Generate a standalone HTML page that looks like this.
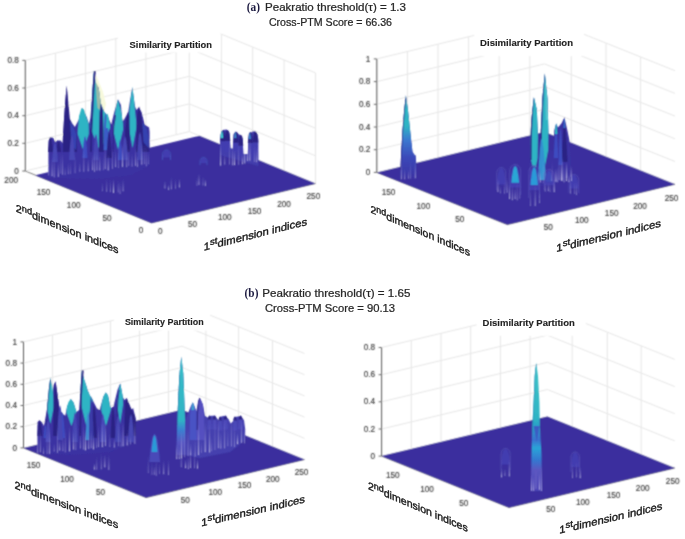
<!DOCTYPE html>
<html><head><meta charset="utf-8"><style>
html,body{margin:0;padding:0;background:#fff;}
svg{display:block;}
.tk{font-family:"Liberation Sans",sans-serif;font-size:9px;fill:#383838;stroke:#383838;stroke-width:0.15px;}
.st{font-family:"Liberation Sans",sans-serif;font-size:9px;font-weight:bold;fill:#222;stroke:#222;stroke-width:0.12px;}
.ttl{font-family:"Liberation Sans",sans-serif;font-size:10px;fill:#262626;stroke:#262626;stroke-width:0.22px;}
.ab{font-family:"Liberation Serif",serif;font-size:12.8px;font-weight:bold;fill:#1c1a40;}
.lbl{font-family:"Liberation Sans",sans-serif;font-size:10.6px;fill:#1a1a1a;stroke:#1a1a1a;stroke-width:0.38px;}
.sup{font-size:9px;}
</style></head><body>
<svg width="685" height="539" viewBox="0 0 685 539">
<defs><linearGradient id="g0" gradientUnits="userSpaceOnUse" x1="0" y1="95.3" x2="0" y2="179.0"><stop offset="0.000" stop-color="#2eb4c4"/><stop offset="0.367" stop-color="#2eb4c4"/><stop offset="0.534" stop-color="#3a78d0"/><stop offset="0.749" stop-color="#3a48b8"/><stop offset="1.000" stop-color="#3a31a2"/></linearGradient><linearGradient id="g1" gradientUnits="userSpaceOnUse" x1="0" y1="356.7" x2="0" y2="455.0"><stop offset="0.000" stop-color="#38bcc8"/><stop offset="0.644" stop-color="#2eb4c4"/><stop offset="0.746" stop-color="#3a80d0"/><stop offset="0.868" stop-color="#5656c2"/><stop offset="1.000" stop-color="#4a44b2"/></linearGradient><linearGradient id="g2" gradientUnits="userSpaceOnUse" x1="0" y1="362.5" x2="0" y2="491.0"><stop offset="0.000" stop-color="#40c4c8"/><stop offset="0.432" stop-color="#2eb4c4"/><stop offset="0.525" stop-color="#2a96c8"/><stop offset="0.603" stop-color="#3a72d0"/><stop offset="0.665" stop-color="#2aa4d8"/><stop offset="0.759" stop-color="#3478d0"/><stop offset="0.837" stop-color="#5a56c0"/><stop offset="1.000" stop-color="#4a42b4"/></linearGradient><filter id="glob" x="0" y="0" width="685" height="539" filterUnits="userSpaceOnUse"><feConvolveMatrix order="3" kernelMatrix="1 2 1 2 6 2 1 2 1" divisor="18" edgeMode="duplicate"/></filter><filter id="soft" x="-5%" y="-5%" width="110%" height="110%"><feGaussianBlur stdDeviation="0.45"/></filter><linearGradient id="sg" x1="0" y1="0" x2="0" y2="1"><stop offset="0" stop-color="#c8c4f0" stop-opacity="0"/><stop offset="1" stop-color="#dcd8fa" stop-opacity="1"/></linearGradient></defs>
<rect width="685" height="539" fill="#fff"/>
<g filter="url(#glob)">
<g id="TL"><path d="M25.3,171.0 L25.3,60.4 M55.5,163.8 L55.5,53.1 M85.6,156.5 L85.6,45.9 M115.8,149.3 L115.8,38.6 M145.9,142.0 L145.9,31.4 M176.1,134.8 L176.1,24.1 M189.3,131.6 L189.3,21.0 M221.4,144.8 L221.4,34.2 M252.7,157.7 L252.7,47.0 M284.1,170.6 L284.1,59.9 M315.5,183.5 L315.5,72.9 M25.3,171.0 L189.3,131.6 L315.5,183.5 M25.3,143.3 L189.3,103.9 L315.5,155.8 M25.3,115.7 L189.3,76.3 L315.5,128.2 M25.3,88.0 L189.3,48.6 L315.5,100.5 M25.3,60.4 L189.3,21.0 L315.5,72.9" stroke="#e6e6e6" stroke-width="1" fill="none"/>
<path d="M25.3,171.0 L151.5,222.9 L315.5,183.5" stroke="#5a5a5a" stroke-width="0.8" fill="none"/>
<polygon points="151.5,222.9 315.5,183.5 199.4,135.8 35.4,175.2" fill="#3a2f9e"/>
<g filter="url(#soft)">
<polygon points="95.5,74.0 99.0,82.0 103.0,92.0 106.0,104.0 104.0,112.0 99.0,104.0 96.0,90.0" fill="#f7f9dc"/>
<polygon points="48.3,177.0 48.5,141.0 50.0,137.5 53.0,137.5 55.3,142.0 57.0,140.5 60.5,140.5 62.5,143.0 64.5,112.0 66.7,85.8 68.9,120.0 71.9,123.0 74.9,127.0 78.6,120.0 82.3,108.0 86.7,117.0 89.0,124.0 90.4,118.0 92.5,90.0 93.9,71.0 96.4,87.3 98.6,87.3 100.8,103.6 104.6,112.5 107.5,115.5 111.2,124.4 114.2,112.5 117.9,99.2 120.9,105.0 122.4,121.4 125.0,118.0 128.3,111.8 129.8,102.0 132.3,87.3 135.0,106.6 136.5,110.0 138.7,107.3 141.7,112.5 144.7,124.4 149.1,127.4 149.6,132.0 149.5,165.5 131.0,175.0 97.0,179.0 70.0,178.5" fill="#3a31a2"/>
<polygon points="48.0,152.0 48.1,150.5 48.2,149.1 48.3,147.6 48.5,146.1 48.6,144.7 48.7,143.2 48.9,141.7 49.1,140.2 49.4,138.8 50.2,137.3 50.2,137.3 51.3,138.8 51.7,140.2 51.9,141.7 52.2,143.2 52.4,144.7 52.6,146.1 52.8,147.6 52.9,149.1 53.1,150.5 53.2,152.0" fill="#2c2484"/>
<polygon points="56.3,152.0 56.4,150.9 56.5,149.8 56.6,148.6 56.8,147.5 56.9,146.4 57.0,145.3 57.2,144.2 57.4,143.0 57.7,141.9 58.5,140.8 58.5,140.8 59.4,141.9 59.8,143.0 60.0,144.2 60.2,145.3 60.4,146.4 60.6,147.5 60.7,148.6 60.9,149.8 61.0,150.9 61.1,152.0" fill="#2c2484"/>
<polygon points="77.7,134.0 77.7,131.9 78.4,124.1 78.8,118.9 79.0,116.3 81.0,109.8 81.6,107.9 81.6,107.9 84.2,109.8 86.1,116.3 86.8,118.9 88.7,124.1 88.8,131.9 88.8,134.0 83.2,150.0" fill="#2eb4c4"/>
<polygon points="62.8,152.0 63.2,134.5 63.5,129.3 63.7,125.4 63.9,121.5 64.1,118.9 65.4,99.5 66.7,85.8 66.7,85.8 68.0,99.5 69.9,118.9 71.2,121.5 72.5,125.4 74.5,129.3 76.4,134.5 77.0,152.0" fill="#2c2484"/>
<polygon points="70.0,121.0 72.5,125.4 74.5,129.3 76.4,134.5 76.0,150.0 71.5,145.0" fill="#3442b0"/>
<polygon points="90.5,128.0 90.7,124.1 91.2,115.5 91.4,112.5 91.5,110.0 91.8,103.6 92.5,90.0 92.7,87.3 93.9,71.0 93.9,71.0 96.4,87.3 99.0,90.0 100.8,103.6 103.5,110.0 104.6,112.5 107.5,115.5 109.9,124.1 110.0,128.0 100.2,152.0" fill="#2eb4c4"/>
<polygon points="93.9,71.0 92.5,90.0 91.5,110.0 90.4,130.0 90.0,152.0 91.9,152.0 92.3,130.0 93.4,110.0 94.4,90.0 95.8,71.0" fill="#2c2484"/>
<polygon points="95.8,82.0 98.2,86.5 99.6,95.0 100.8,103.0 99.6,110.0 97.6,108.0 96.5,95.0" fill="#9cb9a8"/>
<polygon points="98.8,152.0 99.0,130.0 99.5,112.4 99.9,109.8 100.8,103.3 100.8,103.3 102.8,109.8 102.9,112.4 103.5,130.0 103.8,152.0" fill="#2c2484"/>
<polygon points="103.6,150.0 103.7,146.3 103.8,142.6 103.9,138.8 104.0,135.1 104.1,131.4 104.2,127.7 104.3,124.0 104.5,120.2 104.7,116.5 105.2,112.8 105.2,112.8 106.6,116.5 107.2,120.2 107.7,124.0 108.0,127.7 108.4,131.4 108.7,135.1 109.0,138.8 109.2,142.6 109.5,146.3 109.7,150.0" fill="#3a5cc6"/>
<polygon points="106.0,128.0 106.1,126.5 106.1,125.1 106.2,123.7 106.3,122.2 106.4,120.8 106.4,119.3 106.5,117.8 106.7,116.4 106.8,115.0 107.2,113.5 107.2,113.5 108.0,115.0 108.3,116.4 108.6,117.8 108.8,119.3 109.0,120.8 109.1,122.2 109.3,123.7 109.4,125.1 109.6,126.5 109.7,128.0" fill="#2eb4c4"/>
<polygon points="113.1,130.0 113.2,126.7 113.9,122.8 114.5,118.9 115.2,113.7 115.8,108.5 116.3,105.9 117.7,99.5 117.7,99.5 119.6,105.9 120.3,108.5 121.6,113.7 122.3,118.9 122.9,122.8 123.0,126.7 123.0,130.0 118.1,150.0" fill="#2eb4c4"/>
<polygon points="115.0,115.0 114.5,118.9 113.2,126.7 112.5,152.0 113.5,152.0 114.2,126.7 115.5,118.9 116.0,115.0" fill="#2c2484"/>
<polygon points="128.9,128.0 129.1,121.5 129.4,112.4 130.7,99.5 132.4,87.1 132.4,87.1 133.9,99.5 135.2,112.4 136.2,121.5 136.3,128.0 132.6,148.0" fill="#2eb4c4"/>
<polygon points="124.5,152.0 125.0,130.0 126.1,118.9 126.9,116.0 128.1,111.8 128.1,111.8 129.5,116.0 129.5,118.9 129.7,130.0 130.0,152.0" fill="#2c2484"/>
<polygon points="136.0,152.0 136.3,138.4 136.5,130.0 136.5,129.3 136.8,124.1 136.8,122.8 137.2,113.7 137.5,112.4 139.1,106.6 139.1,106.6 141.0,112.4 141.2,113.7 142.3,122.8 143.6,124.1 146.9,129.3 147.0,130.0 148.8,138.4 149.3,152.0" fill="#2c2484"/>
<polygon points="142.3,122.8 144.3,124.1 146.9,129.3 148.8,138.4 148.5,148.0 143.5,142.0" fill="#3442b0"/>
<polygon points="82.5,158.0 82.6,155.8 82.8,153.6 82.9,151.4 83.1,149.2 83.2,147.0 83.4,144.8 83.6,142.6 83.9,140.4 84.2,138.2 85.0,136.0 85.0,136.0 85.8,138.2 86.1,140.4 86.4,142.6 86.6,144.8 86.8,147.0 86.9,149.2 87.1,151.4 87.2,153.6 87.4,155.8 87.5,158.0" fill="#3d4cc0"/>
<polygon points="69.0,160.0 69.2,157.5 69.3,155.0 69.5,152.5 69.7,150.0 69.9,147.5 70.1,145.0 70.4,142.5 70.7,140.0 71.1,137.5 72.0,135.0 72.0,135.0 72.9,137.5 73.3,140.0 73.6,142.5 73.9,145.0 74.1,147.5 74.3,150.0 74.5,152.5 74.7,155.0 74.8,157.5 75.0,160.0" fill="#4646b4"/>
<polygon points="93.0,160.0 93.2,157.4 93.3,154.8 93.5,152.2 93.7,149.6 93.9,147.0 94.1,144.4 94.4,141.8 94.7,139.2 95.1,136.6 96.0,134.0 96.0,134.0 96.9,136.6 97.3,139.2 97.6,141.8 97.9,144.4 98.1,147.0 98.3,149.6 98.5,152.2 98.7,154.8 98.8,157.4 99.0,160.0" fill="#4444b2"/>
<polygon points="122.0,160.0 122.2,157.6 122.3,155.2 122.5,152.8 122.7,150.4 122.9,148.0 123.1,145.6 123.4,143.2 123.7,140.8 124.1,138.4 125.0,136.0 125.0,136.0 125.9,138.4 126.3,140.8 126.6,143.2 126.9,145.6 127.1,148.0 127.3,150.4 127.5,152.8 127.7,155.2 127.8,157.6 128.0,160.0" fill="#4646b4"/>
<polygon points="137.0,160.0 137.2,157.2 137.3,154.4 137.5,151.6 137.7,148.8 137.9,146.0 138.1,143.2 138.4,140.4 138.7,137.6 139.1,134.8 140.0,132.0 140.0,132.0 140.9,134.8 141.3,137.6 141.6,140.4 141.9,143.2 142.1,146.0 142.3,148.8 142.5,151.6 142.7,154.4 142.8,157.2 143.0,160.0" fill="#4444b2"/>
<polygon points="52.0,162.0 52.2,160.0 52.3,158.0 52.5,156.0 52.7,154.0 52.9,152.0 53.1,150.0 53.4,148.0 53.7,146.0 54.1,144.0 55.0,142.0 55.0,142.0 55.9,144.0 56.3,146.0 56.6,148.0 56.9,150.0 57.1,152.0 57.3,154.0 57.5,156.0 57.7,158.0 57.8,160.0 58.0,162.0" fill="#4646b4"/>
<polygon points="106.5,158.0 106.6,155.4 106.8,152.8 106.9,150.2 107.1,147.6 107.2,145.0 107.4,142.4 107.6,139.8 107.9,137.2 108.2,134.6 109.0,132.0 109.0,132.0 109.9,134.6 110.3,137.2 110.6,139.8 110.9,142.4 111.1,145.0 111.3,147.6 111.5,150.2 111.7,152.8 111.8,155.4 112.0,158.0" fill="#2c2484"/>
<polygon points="118.0,160.0 118.1,158.0 118.2,156.0 118.3,154.0 118.5,152.0 118.6,150.0 118.7,148.0 118.9,146.0 119.1,144.0 119.4,142.0 120.0,140.0 120.0,140.0 120.8,142.0 121.1,144.0 121.4,146.0 121.6,148.0 121.8,150.0 121.9,152.0 122.1,154.0 122.2,156.0 122.4,158.0 122.5,160.0" fill="#3d4cc0"/>
<rect x="48.3" y="155.2" width="0.9" height="20.2" fill="url(#sg)" opacity="0.43"/>
<rect x="51.6" y="157.8" width="0.9" height="18.4" fill="url(#sg)" opacity="0.69"/>
<rect x="53.7" y="155.9" width="0.9" height="21.4" fill="url(#sg)" opacity="0.52"/>
<rect x="57.8" y="161.7" width="0.9" height="15.1" fill="url(#sg)" opacity="0.66"/>
<rect x="60.3" y="151.3" width="0.9" height="22.4" fill="url(#sg)" opacity="0.32"/>
<rect x="62.2" y="151.7" width="0.9" height="23.0" fill="url(#sg)" opacity="0.49"/>
<rect x="64.6" y="166.3" width="0.9" height="8.5" fill="url(#sg)" opacity="0.41"/>
<rect x="67.8" y="162.4" width="0.9" height="11.7" fill="url(#sg)" opacity="0.42"/>
<rect x="70.2" y="161.3" width="0.9" height="12.6" fill="url(#sg)" opacity="0.31"/>
<rect x="74.6" y="154.9" width="0.9" height="18.3" fill="url(#sg)" opacity="0.39"/>
<rect x="79.4" y="161.8" width="0.9" height="9.9" fill="url(#sg)" opacity="0.47"/>
<rect x="83.4" y="148.7" width="0.9" height="23.0" fill="url(#sg)" opacity="0.51"/>
<rect x="87.7" y="158.4" width="0.9" height="12.9" fill="url(#sg)" opacity="0.59"/>
<rect x="92.2" y="154.1" width="0.9" height="16.1" fill="url(#sg)" opacity="0.59"/>
<rect x="94.1" y="151.0" width="0.9" height="20.8" fill="url(#sg)" opacity="0.51"/>
<rect x="96.5" y="151.3" width="0.9" height="19.2" fill="url(#sg)" opacity="0.64"/>
<rect x="99.4" y="154.4" width="0.9" height="16.1" fill="url(#sg)" opacity="0.69"/>
<rect x="102.8" y="154.5" width="0.9" height="15.8" fill="url(#sg)" opacity="0.31"/>
<rect x="104.7" y="145.4" width="0.9" height="23.7" fill="url(#sg)" opacity="0.60"/>
<rect x="107.7" y="154.4" width="0.9" height="16.0" fill="url(#sg)" opacity="0.79"/>
<rect x="111.9" y="147.0" width="0.9" height="21.8" fill="url(#sg)" opacity="0.42"/>
<rect x="115.2" y="149.9" width="0.9" height="17.2" fill="url(#sg)" opacity="0.53"/>
<rect x="117.9" y="144.7" width="0.9" height="23.3" fill="url(#sg)" opacity="0.30"/>
<rect x="122.0" y="144.6" width="0.9" height="22.2" fill="url(#sg)" opacity="0.67"/>
<rect x="126.3" y="150.2" width="0.9" height="17.0" fill="url(#sg)" opacity="0.51"/>
<rect x="128.3" y="148.7" width="0.9" height="17.1" fill="url(#sg)" opacity="0.40"/>
<rect x="131.6" y="152.9" width="0.9" height="13.7" fill="url(#sg)" opacity="0.47"/>
<rect x="135.1" y="148.0" width="0.9" height="17.8" fill="url(#sg)" opacity="0.53"/>
<rect x="136.9" y="155.9" width="0.9" height="10.8" fill="url(#sg)" opacity="0.59"/>
<rect x="141.4" y="143.8" width="0.9" height="20.8" fill="url(#sg)" opacity="0.71"/>
<rect x="144.0" y="145.3" width="0.9" height="18.8" fill="url(#sg)" opacity="0.34"/>
<rect x="145.8" y="146.2" width="0.9" height="20.1" fill="url(#sg)" opacity="0.42"/>
<rect x="147.9" y="150.7" width="0.9" height="13.5" fill="url(#sg)" opacity="0.33"/>
<rect x="101.9" y="182.7" width="0.9" height="8.5" fill="url(#sg)" opacity="0.34"/>
<rect x="106.3" y="178.4" width="0.9" height="13.4" fill="url(#sg)" opacity="0.45"/>
<rect x="109.9" y="179.5" width="0.9" height="12.6" fill="url(#sg)" opacity="0.38"/>
<rect x="113.0" y="179.0" width="0.9" height="13.8" fill="url(#sg)" opacity="0.80"/>
<rect x="117.7" y="180.8" width="0.9" height="11.6" fill="url(#sg)" opacity="0.43"/>
<rect x="119.6" y="182.2" width="0.9" height="11.7" fill="url(#sg)" opacity="0.46"/>
<rect x="122.6" y="179.1" width="0.9" height="12.2" fill="url(#sg)" opacity="0.58"/>
<polygon points="162.5,157.5 162.6,156.8 162.8,156.1 163.0,155.3 163.2,154.6 163.4,153.9 163.6,153.2 163.9,152.5 164.2,151.7 164.7,151.0 166.5,150.3 166.5,150.3 168.3,151.0 168.8,151.7 169.1,152.5 169.4,153.2 169.6,153.9 169.8,154.6 170.0,155.3 170.2,156.1 170.4,156.8 170.5,157.5" fill="#433db0"/>
<polyline points="162.5,160.0 162.5,154.8 162.6,153.6 163.0,152.4 163.7,151.4 164.5,150.6 165.5,150.2 166.5,150.0 167.5,150.2 168.5,150.6 169.3,151.4 170.0,152.4 170.4,153.6 170.5,154.8 170.5,160.0" stroke="#4a60c8" stroke-width="0.60" fill="none"/>
<polygon points="200.0,163.1 200.1,162.6 200.3,162.1 200.4,161.5 200.6,161.0 200.8,160.5 201.0,159.9 201.2,159.4 201.5,158.9 201.9,158.3 203.5,157.8 203.5,157.8 205.1,158.3 205.5,158.9 205.8,159.4 206.0,159.9 206.2,160.5 206.4,161.0 206.6,161.5 206.7,162.1 206.9,162.6 207.0,163.1" fill="#433db0"/>
<polyline points="200.0,165.0 200.0,161.7 200.1,160.6 200.5,159.6 201.0,158.7 201.8,158.1 202.6,157.6 203.5,157.5 204.4,157.6 205.2,158.1 206.0,158.7 206.5,159.6 206.9,160.6 207.0,161.7 207.0,165.0" stroke="#4a60c8" stroke-width="0.60" fill="none"/>
<rect x="164.5" y="180.8" width="0.9" height="7.6" fill="url(#sg)" opacity="0.60"/>
<rect x="168.2" y="184.7" width="0.9" height="5.1" fill="url(#sg)" opacity="0.72"/>
<rect x="170.8" y="177.3" width="0.9" height="12.0" fill="url(#sg)" opacity="0.54"/>
<rect x="175.1" y="179.1" width="0.9" height="9.5" fill="url(#sg)" opacity="0.38"/>
<rect x="178.9" y="178.7" width="0.9" height="8.7" fill="url(#sg)" opacity="0.67"/>
<rect x="196.5" y="177.9" width="0.9" height="7.8" fill="url(#sg)" opacity="0.38"/>
<rect x="198.5" y="173.4" width="0.9" height="11.4" fill="url(#sg)" opacity="0.70"/>
<rect x="202.6" y="176.6" width="0.9" height="8.8" fill="url(#sg)" opacity="0.44"/>
<rect x="204.9" y="179.2" width="0.9" height="6.5" fill="url(#sg)" opacity="0.76"/>
<polygon points="220.0,143.0 220.6,133.9 222.8,130.0 226.7,129.5 229.5,132.8 230.6,148.4 232.8,148.4 233.4,134.5 235.8,131.5 239.2,134.5 241.2,135.6 242.8,139.5 243.4,154.0 247.8,154.0 248.4,139.0 251.7,131.7 254.5,131.1 257.3,133.9 258.4,139.5 258.4,161.8 258.4,166.0 220.0,155.0" fill="#423cac"/>
<polygon points="220.2,150.0 220.3,148.0 220.4,146.0 220.5,144.1 220.6,142.1 220.7,140.1 220.8,138.1 221.0,136.1 221.2,134.2 221.5,132.2 222.8,130.2 222.8,130.2 224.1,132.2 224.4,134.2 224.6,136.1 224.8,138.1 224.9,140.1 225.0,142.1 225.1,144.1 225.2,146.0 225.3,148.0 225.4,150.0" fill="#423eb0"/>
<polygon points="220.3,141.2 220.4,140.1 220.4,139.0 220.5,137.9 220.6,136.8 220.8,135.7 220.9,134.6 221.0,133.5 221.2,132.4 221.5,131.3 222.8,130.2 222.8,130.2 224.1,131.3 224.4,132.4 224.6,133.5 224.7,134.6 224.8,135.7 225.0,136.8 225.1,137.9 225.2,139.0 225.2,140.1 225.3,141.2" fill="#2c2484"/>
<polygon points="224.6,152.0 224.7,149.8 224.8,147.6 224.9,145.4 225.0,143.2 225.1,141.0 225.2,138.8 225.4,136.6 225.6,134.4 225.9,132.2 227.2,130.0 227.2,130.0 228.8,132.2 229.2,134.4 229.4,136.6 229.6,138.8 229.8,141.0 229.9,143.2 230.1,145.4 230.2,147.6 230.3,149.8 230.4,152.0" fill="#423eb0"/>
<polygon points="224.7,141.0 224.8,139.9 224.8,138.8 224.9,137.7 225.0,136.6 225.2,135.5 225.3,134.4 225.4,133.3 225.6,132.2 225.9,131.1 227.2,130.0 227.2,130.0 228.8,131.1 229.1,132.2 229.4,133.3 229.6,134.4 229.7,135.5 229.9,136.6 230.0,137.7 230.1,138.8 230.2,139.9 230.3,141.0" fill="#2c2484"/>
<polygon points="233.2,152.0 233.3,150.0 233.4,147.9 233.5,145.9 233.6,143.9 233.7,141.8 233.9,139.8 234.0,137.8 234.3,135.8 234.6,133.7 236.0,131.7 236.0,131.7 237.5,133.7 237.9,135.8 238.1,137.8 238.3,139.8 238.4,141.8 238.6,143.9 238.7,145.9 238.8,147.9 238.9,150.0 239.0,152.0" fill="#423eb0"/>
<polygon points="233.3,142.7 233.4,141.6 233.5,140.5 233.6,139.4 233.7,138.3 233.8,137.2 233.9,136.1 234.1,135.0 234.3,133.9 234.6,132.8 236.0,131.7 236.0,131.7 237.5,132.8 237.8,133.9 238.0,135.0 238.2,136.1 238.4,137.2 238.5,138.3 238.6,139.4 238.7,140.5 238.8,141.6 238.9,142.7" fill="#2c2484"/>
<polygon points="238.2,156.0 238.3,153.9 238.4,151.8 238.4,149.6 238.5,147.5 238.7,145.4 238.8,143.3 238.9,141.2 239.1,139.0 239.4,136.9 240.6,134.8 240.6,134.8 242.0,136.9 242.3,139.0 242.6,141.2 242.7,143.3 242.9,145.4 243.0,147.5 243.1,149.6 243.2,151.8 243.3,153.9 243.4,156.0" fill="#423eb0"/>
<polygon points="238.3,145.8 238.3,144.7 238.4,143.6 238.5,142.5 238.6,141.4 238.7,140.3 238.8,139.2 239.0,138.1 239.2,137.0 239.4,135.9 240.6,134.8 240.6,134.8 242.0,135.9 242.3,137.0 242.5,138.1 242.7,139.2 242.8,140.3 242.9,141.4 243.0,142.5 243.1,143.6 243.2,144.7 243.3,145.8" fill="#2c2484"/>
<polygon points="247.7,158.0 247.8,155.4 247.9,152.8 248.0,150.2 248.1,147.6 248.2,145.0 248.4,142.4 248.5,139.8 248.8,137.2 249.1,134.6 250.5,132.0 250.5,132.0 251.8,134.6 252.0,137.2 252.2,139.8 252.4,142.4 252.5,145.0 252.6,147.6 252.7,150.2 252.8,152.8 252.9,155.4 253.0,158.0" fill="#423eb0"/>
<polygon points="247.8,143.0 247.9,141.9 248.0,140.8 248.1,139.7 248.2,138.6 248.3,137.5 248.4,136.4 248.6,135.3 248.8,134.2 249.1,133.1 250.5,132.0 250.5,132.0 251.7,133.1 252.0,134.2 252.2,135.3 252.3,136.4 252.5,137.5 252.6,138.6 252.7,139.7 252.8,140.8 252.8,141.9 252.9,143.0" fill="#2c2484"/>
<polygon points="252.8,160.0 252.9,157.1 253.0,154.3 253.0,151.4 253.1,148.6 253.3,145.7 253.4,142.8 253.5,140.0 253.7,137.1 254.0,134.3 255.2,131.4 255.2,131.4 256.8,134.3 257.2,137.1 257.4,140.0 257.6,142.8 257.8,145.7 257.9,148.6 258.1,151.4 258.2,154.3 258.3,157.1 258.4,160.0" fill="#423eb0"/>
<polygon points="252.9,142.4 252.9,141.3 253.0,140.2 253.1,139.1 253.2,138.0 253.3,136.9 253.4,135.8 253.6,134.7 253.8,133.6 254.0,132.5 255.2,131.4 255.2,131.4 256.8,132.5 257.1,133.6 257.4,134.7 257.6,135.8 257.7,136.9 257.9,138.0 258.0,139.1 258.1,140.2 258.2,141.3 258.3,142.4" fill="#2c2484"/>
<polygon points="220.6,138.0 220.7,137.3 220.7,136.5 220.8,135.8 220.9,135.0 221.0,134.3 221.1,133.6 221.2,132.8 221.4,132.1 221.6,131.3 222.0,130.6 222.0,130.6 222.4,131.3 222.5,132.1 222.7,132.8 222.8,133.6 222.8,134.3 222.9,135.0 223.0,135.8 223.1,136.5 223.1,137.3 223.2,138.0" fill="#3cc4d0"/>
<polygon points="234.2,138.0 234.3,137.4 234.3,136.8 234.4,136.3 234.5,135.7 234.6,135.1 234.6,134.5 234.7,133.9 234.9,133.4 235.0,132.8 235.4,132.2 235.4,132.2 235.7,132.8 235.8,133.4 235.9,133.9 236.0,134.5 236.1,135.1 236.2,135.7 236.2,136.3 236.3,136.8 236.3,137.4 236.4,138.0" fill="#3a8ad0"/>
<polygon points="248.7,139.0 248.8,138.3 248.8,137.7 248.9,137.1 249.0,136.4 249.1,135.8 249.2,135.1 249.3,134.4 249.4,133.8 249.6,133.2 250.0,132.5 250.0,132.5 250.3,133.2 250.4,133.8 250.5,134.4 250.6,135.1 250.7,135.8 250.8,136.4 250.8,137.1 250.9,137.7 250.9,138.3 251.0,139.0" fill="#3a80d0"/>
<rect x="220.2" y="142.9" width="0.9" height="22.7" fill="url(#sg)" opacity="0.77"/>
<rect x="224.3" y="154.0" width="0.9" height="10.5" fill="url(#sg)" opacity="0.53"/>
<rect x="229.0" y="140.1" width="0.9" height="24.4" fill="url(#sg)" opacity="0.36"/>
<rect x="232.2" y="146.6" width="0.9" height="18.7" fill="url(#sg)" opacity="0.59"/>
<rect x="234.0" y="150.6" width="0.9" height="14.5" fill="url(#sg)" opacity="0.76"/>
<rect x="238.2" y="141.9" width="0.9" height="22.8" fill="url(#sg)" opacity="0.37"/>
<rect x="241.9" y="154.2" width="0.9" height="10.0" fill="url(#sg)" opacity="0.74"/>
<rect x="244.3" y="137.8" width="0.9" height="25.7" fill="url(#sg)" opacity="0.74"/>
<rect x="247.0" y="142.3" width="0.9" height="18.6" fill="url(#sg)" opacity="0.64"/>
<rect x="249.4" y="139.6" width="0.9" height="21.1" fill="url(#sg)" opacity="0.78"/>
<rect x="253.9" y="146.1" width="0.9" height="15.8" fill="url(#sg)" opacity="0.38"/>
<rect x="256.2" y="147.4" width="0.9" height="14.8" fill="url(#sg)" opacity="0.60"/>
<rect x="258.0" y="144.7" width="0.9" height="15.4" fill="url(#sg)" opacity="0.45"/>
</g>
<path d="M25.3,171.0 L25.3,60.4" stroke="#5a5a5a" stroke-width="1" fill="none"/>
<path d="M25.3,171.0 h-3" stroke="#5a5a5a" stroke-width="0.9"/>
<text x="18.8" y="173.6" class="tk" text-anchor="end" textLength="4.56" lengthAdjust="spacingAndGlyphs">0</text>
<path d="M25.3,143.3 h-3" stroke="#5a5a5a" stroke-width="0.9"/>
<text x="18.8" y="145.9" class="tk" text-anchor="end" textLength="11.40" lengthAdjust="spacingAndGlyphs">0.2</text>
<path d="M25.3,115.7 h-3" stroke="#5a5a5a" stroke-width="0.9"/>
<text x="18.8" y="118.3" class="tk" text-anchor="end" textLength="11.40" lengthAdjust="spacingAndGlyphs">0.4</text>
<path d="M25.3,88.0 h-3" stroke="#5a5a5a" stroke-width="0.9"/>
<text x="18.8" y="90.6" class="tk" text-anchor="end" textLength="11.40" lengthAdjust="spacingAndGlyphs">0.6</text>
<path d="M25.3,60.4 h-3" stroke="#5a5a5a" stroke-width="0.9"/>
<text x="18.8" y="63.0" class="tk" text-anchor="end" textLength="11.40" lengthAdjust="spacingAndGlyphs">0.8</text>
<text x="11.2" y="182.8" class="tk" text-anchor="middle" textLength="13.68" lengthAdjust="spacingAndGlyphs">200</text>
<text x="43.5" y="195.3" class="tk" text-anchor="middle" textLength="13.68" lengthAdjust="spacingAndGlyphs">150</text>
<text x="73.7" y="208.2" class="tk" text-anchor="middle" textLength="13.68" lengthAdjust="spacingAndGlyphs">100</text>
<text x="107.0" y="220.7" class="tk" text-anchor="middle" textLength="9.12" lengthAdjust="spacingAndGlyphs">50</text>
<text x="141.0" y="233.2" class="tk" text-anchor="middle" textLength="4.56" lengthAdjust="spacingAndGlyphs">0</text>
<text x="160.4" y="234.2" class="tk" text-anchor="middle" textLength="4.56" lengthAdjust="spacingAndGlyphs">0</text>
<text x="192.6" y="226.8" class="tk" text-anchor="middle" textLength="9.12" lengthAdjust="spacingAndGlyphs">50</text>
<text x="224.8" y="220.2" class="tk" text-anchor="middle" textLength="13.68" lengthAdjust="spacingAndGlyphs">100</text>
<text x="254.6" y="213.7" class="tk" text-anchor="middle" textLength="13.68" lengthAdjust="spacingAndGlyphs">150</text>
<text x="284.0" y="206.5" class="tk" text-anchor="middle" textLength="13.68" lengthAdjust="spacingAndGlyphs">200</text>
<text x="313.4" y="199.2" class="tk" text-anchor="middle" textLength="13.68" lengthAdjust="spacingAndGlyphs">250</text>
<rect x="118.0" y="16.0" width="102.5" height="36.5" fill="#fff"/></g>
<g id="TR"><path d="M376.8,172.4 L376.8,58.9 M407.4,165.0 L407.4,51.5 M438.0,157.7 L438.0,44.2 M468.6,150.3 L468.6,36.8 M499.2,142.9 L499.2,29.4 M529.8,135.5 L529.8,22.0 M571.3,142.7 L571.3,29.2 M606.0,156.6 L606.0,43.1 M640.6,170.4 L640.6,56.9 M376.8,172.4 L544.5,132.0 L675.0,184.2 M376.8,149.7 L544.5,109.3 L675.0,161.5 M376.8,127.0 L544.5,86.6 L675.0,138.8 M376.8,104.3 L544.5,63.9 L675.0,116.1 M376.8,81.6 L544.5,41.2 L675.0,93.4 M376.8,58.9 L544.5,18.5 L675.0,70.7" stroke="#e6e6e6" stroke-width="1" fill="none"/>
<path d="M376.8,172.4 L507.3,224.6 L675.0,184.2" stroke="#5a5a5a" stroke-width="0.8" fill="none"/>
<polygon points="507.3,224.6 675.0,184.2 544.5,132.0 376.8,172.4" fill="#3a2f9e"/>
<g filter="url(#soft)">
<polygon points="400.0,179.0 401.0,157.6 402.5,131.0 404.2,110.6 405.9,95.3 408.0,110.6 410.4,133.0 412.4,151.4 414.1,154.5 415.5,155.5 416.1,161.6 416.7,179.0" fill="#3a31a2"/>
<polygon points="400.2,179.0 400.9,161.6 401.0,157.6 401.1,155.5 401.2,154.5 401.3,151.4 402.4,133.0 402.5,131.0 404.2,110.6 405.9,95.3 405.9,95.3 408.0,110.6 410.2,131.0 410.4,133.0 412.4,151.4 414.1,154.5 415.5,155.5 415.7,157.6 416.1,161.6 416.7,179.0" fill="url(#g0)"/>
<polygon points="405.6,98.0 404.2,110.6 402.5,131.0 401.0,157.6 400.5,170.0 401.2,170.0 401.7,157.6 403.2,131.0 404.9,110.6 406.3,98.0" fill="#2c2484"/>
<rect x="400.9" y="158.4" width="0.9" height="20.9" fill="url(#sg)" opacity="0.53"/>
<rect x="404.3" y="168.7" width="0.9" height="10.6" fill="url(#sg)" opacity="0.56"/>
<rect x="408.0" y="169.3" width="0.9" height="9.3" fill="url(#sg)" opacity="0.45"/>
<rect x="410.0" y="160.9" width="0.9" height="17.7" fill="url(#sg)" opacity="0.32"/>
<rect x="414.8" y="161.0" width="0.9" height="17.2" fill="url(#sg)" opacity="0.61"/>
<polygon points="529.5,186.0 530.1,154.1 531.2,120.7 533.9,97.3 536.8,109.6 537.9,135.0 540.1,154.1 540.8,131.8 542.4,98.4 544.8,73.5 547.5,98.4 548.4,131.8 549.0,149.7 553.2,151.0 554.2,130.6 556.2,123.5 558.0,127.4 561.7,122.9 564.4,117.3 567.4,130.6 569.5,140.8 570.5,157.1 570.5,176.0 550.0,186.0" fill="#3a31a2"/>
<polygon points="553.7,158.0 553.9,154.6 554.1,151.1 554.3,147.7 554.5,144.2 554.7,140.8 554.9,137.3 555.1,133.8 555.4,130.4 555.7,127.0 556.2,123.5 556.2,123.5 556.6,127.0 556.8,130.4 557.1,133.8 557.3,137.3 557.4,140.8 557.6,144.2 557.8,147.7 557.9,151.1 558.1,154.6 558.2,158.0" fill="#3d4cc0"/>
<polygon points="554.9,134.0 555.0,132.9 555.1,131.9 555.2,130.8 555.2,129.8 555.3,128.8 555.4,127.7 555.6,126.7 555.7,125.6 555.9,124.5 556.2,123.5 556.2,123.5 556.5,124.5 556.7,125.6 556.8,126.7 557.0,127.7 557.1,128.8 557.2,129.8 557.2,130.8 557.3,131.9 557.4,132.9 557.5,134.0" fill="#2eb4c4"/>
<polygon points="561.6,162.0 561.8,157.5 562.0,153.1 562.2,148.6 562.4,144.1 562.7,139.7 562.9,135.2 563.2,130.7 563.5,126.2 563.8,121.8 564.4,117.3 564.4,117.3 565.0,121.8 565.4,126.2 565.8,130.7 566.1,135.2 566.4,139.7 566.6,144.1 566.9,148.6 567.1,153.1 567.4,157.5 567.6,162.0" fill="#2c2484"/>
<polygon points="563.4,128.0 563.5,127.0 563.5,126.0 563.6,124.9 563.7,123.9 563.7,122.9 563.8,121.9 563.9,120.9 564.0,119.8 564.1,118.8 564.4,117.8 564.4,117.8 564.6,118.8 564.7,119.8 564.8,120.9 564.9,121.9 564.9,122.9 565.0,123.9 565.0,124.9 565.1,126.0 565.2,127.0 565.2,128.0" fill="#3470d0"/>
<polygon points="558.5,165.0 558.6,161.3 558.8,157.6 558.9,153.9 559.0,150.2 559.2,146.5 559.3,142.8 559.5,139.1 559.7,135.4 560.0,131.7 560.5,128.0 560.5,128.0 561.0,131.7 561.3,135.4 561.5,139.1 561.7,142.8 561.8,146.5 562.0,150.2 562.1,153.9 562.2,157.6 562.4,161.3 562.5,165.0" fill="#3d4cc0"/>
<polygon points="531.2,120.7 533.9,97.3 536.8,109.6 537.9,135.0 537.6,158.0 534.5,174.0 530.6,158.0 530.4,140.0" fill="#2eb4c4"/>
<polygon points="533.9,97.3 531.2,120.7 530.4,140.0 530.3,160.0 531.6,160.0 531.8,140.0 532.4,120.7 533.9,100.0" fill="#2c2484"/>
<polygon points="542.4,98.4 544.8,73.5 547.5,98.4 548.4,131.8 548.2,150.0 545.0,166.0 541.0,150.0 540.8,131.8" fill="#2eb4c4"/>
<polygon points="544.8,73.5 542.4,98.4 540.8,131.8 540.6,150.0 541.8,150.0 542.0,131.8 543.4,98.4 544.8,77.0" fill="#2c2484"/>
<polygon points="545.3,78.0 546.6,98.4 547.3,120.0 546.2,120.0 545.6,98.4" fill="#62cfd2"/>
<polygon points="538.0,180.0 538.2,175.8 538.4,171.6 538.7,167.4 538.9,163.2 539.2,159.0 539.5,154.8 539.8,150.6 540.2,146.4 540.6,142.2 541.5,138.0 541.5,138.0 542.6,142.2 543.2,146.4 543.7,150.6 544.1,154.8 544.5,159.0 544.8,163.2 545.1,167.4 545.4,171.6 545.7,175.8 546.0,180.0" fill="#3190d0"/>
<rect x="529.9" y="162.9" width="0.9" height="22.0" fill="url(#sg)" opacity="0.37"/>
<rect x="531.8" y="170.4" width="0.9" height="14.9" fill="url(#sg)" opacity="0.71"/>
<rect x="535.7" y="163.9" width="0.9" height="20.0" fill="url(#sg)" opacity="0.63"/>
<rect x="537.9" y="171.1" width="0.9" height="12.9" fill="url(#sg)" opacity="0.75"/>
<rect x="539.9" y="171.1" width="0.9" height="11.3" fill="url(#sg)" opacity="0.64"/>
<rect x="542.7" y="158.0" width="0.9" height="25.2" fill="url(#sg)" opacity="0.31"/>
<rect x="544.7" y="162.1" width="0.9" height="19.2" fill="url(#sg)" opacity="0.35"/>
<rect x="549.5" y="168.2" width="0.9" height="12.0" fill="url(#sg)" opacity="0.51"/>
<rect x="551.7" y="160.5" width="0.9" height="21.2" fill="url(#sg)" opacity="0.38"/>
<rect x="555.7" y="168.7" width="0.9" height="13.1" fill="url(#sg)" opacity="0.71"/>
<rect x="558.7" y="159.4" width="0.9" height="20.7" fill="url(#sg)" opacity="0.54"/>
<rect x="561.7" y="157.6" width="0.9" height="23.1" fill="url(#sg)" opacity="0.78"/>
<rect x="566.4" y="161.5" width="0.9" height="16.4" fill="url(#sg)" opacity="0.48"/>
<rect x="570.3" y="165.1" width="0.9" height="12.0" fill="url(#sg)" opacity="0.42"/>
<polygon points="496.8,184.4 497.0,182.7 497.1,181.1 497.3,179.4 497.5,177.7 497.8,176.1 498.0,174.4 498.3,172.8 498.7,171.1 499.3,169.5 501.3,167.8 501.3,167.8 503.3,169.5 503.9,171.1 504.3,172.8 504.6,174.4 504.8,176.1 505.1,177.7 505.3,179.4 505.5,181.1 505.6,182.7 505.8,184.4" fill="#433db0"/>
<polyline points="496.8,190.0 496.8,172.9 497.0,171.5 497.4,170.2 498.1,169.1 499.1,168.2 500.1,167.7 501.3,167.5 502.5,167.7 503.6,168.2 504.5,169.1 505.2,170.2 505.6,171.5 505.8,172.9 505.8,190.0" stroke="#5e58bc" stroke-width="0.60" fill="none"/>
<polygon points="509.7,187.4 509.9,185.1 510.1,182.9 510.3,180.6 510.6,178.3 510.9,176.1 511.2,173.8 511.6,171.6 512.1,169.3 512.7,167.1 515.2,164.8 515.2,164.8 517.7,167.1 518.3,169.3 518.8,171.6 519.2,173.8 519.5,176.1 519.8,178.3 520.1,180.6 520.3,182.9 520.5,185.1 520.7,187.4" fill="#433db0"/>
<polygon points="511.4,182.8 511.5,181.1 511.7,179.4 511.9,177.8 512.1,176.1 512.4,174.4 512.7,172.7 513.0,171.0 513.3,169.4 513.8,167.7 515.2,166.0 515.2,166.0 516.6,167.7 517.1,169.4 517.4,171.0 517.7,172.7 518.0,174.4 518.3,176.1 518.5,177.8 518.7,179.4 518.9,181.1 519.1,182.8" fill="#2aa6d6"/>
<polyline points="509.7,195.0 509.7,171.1 509.9,169.4 510.4,167.8 511.3,166.4 512.5,165.4 513.8,164.7 515.2,164.5 516.6,164.7 518.0,165.4 519.1,166.4 520.0,167.8 520.5,169.4 520.7,171.1 520.7,195.0" stroke="#5e58bc" stroke-width="0.60" fill="none"/>
<polygon points="528.9,189.9 529.1,187.5 529.3,185.1 529.5,182.7 529.8,180.2 530.0,177.8 530.4,175.4 530.7,173.0 531.2,170.6 531.8,168.2 534.2,165.8 534.2,165.8 536.6,168.2 537.2,170.6 537.7,173.0 538.0,175.4 538.4,177.8 538.6,180.2 538.9,182.7 539.1,185.1 539.3,187.5 539.5,189.9" fill="#433db0"/>
<polygon points="530.5,185.0 530.7,183.2 530.8,181.4 531.0,179.6 531.3,177.8 531.5,176.0 531.7,174.2 532.0,172.4 532.4,170.6 532.9,168.8 534.2,167.0 534.2,167.0 535.5,168.8 536.0,170.6 536.4,172.4 536.7,174.2 536.9,176.0 537.1,177.8 537.4,179.6 537.6,181.4 537.7,183.2 537.9,185.0" fill="#2c9ad8"/>
<polyline points="528.9,198.0 528.9,171.9 529.1,170.2 529.6,168.7 530.5,167.4 531.6,166.4 532.8,165.7 534.2,165.5 535.6,165.7 536.9,166.4 537.9,167.4 538.8,168.7 539.3,170.2 539.5,171.9 539.5,198.0" stroke="#5e58bc" stroke-width="0.60" fill="none"/>
<polygon points="544.3,184.9 544.5,183.4 544.7,181.9 544.9,180.4 545.1,178.8 545.3,177.3 545.6,175.8 546.0,174.3 546.4,172.8 547.0,171.3 549.1,169.8 549.1,169.8 551.2,171.3 551.8,172.8 552.2,174.3 552.6,175.8 552.9,177.3 553.1,178.8 553.3,180.4 553.5,181.9 553.7,183.4 553.9,184.9" fill="#433db0"/>
<polygon points="545.7,181.8 545.9,180.7 546.1,179.6 546.2,178.6 546.4,177.5 546.6,176.4 546.9,175.3 547.1,174.2 547.5,173.2 547.9,172.1 549.1,171.0 549.1,171.0 550.3,172.1 550.7,173.2 551.1,174.2 551.3,175.3 551.6,176.4 551.8,177.5 552.0,178.6 552.1,179.6 552.3,180.7 552.5,181.8" fill="#4048b8"/>
<polyline points="544.3,190.0 544.3,175.3 544.5,173.8 544.9,172.4 545.7,171.2 546.7,170.3 547.9,169.7 549.1,169.5 550.3,169.7 551.5,170.3 552.5,171.2 553.3,172.4 553.7,173.8 553.9,175.3 553.9,190.0" stroke="#5e58bc" stroke-width="0.60" fill="none"/>
<polygon points="569.1,188.4 569.3,187.0 569.5,185.7 569.7,184.3 569.9,182.9 570.1,181.6 570.4,180.2 570.8,178.9 571.2,177.5 571.8,176.2 573.9,174.8 573.9,174.8 576.0,176.2 576.6,177.5 577.0,178.9 577.4,180.2 577.7,181.6 577.9,182.9 578.1,184.3 578.3,185.7 578.5,187.0 578.7,188.4" fill="#433db0"/>
<polyline points="569.1,193.0 569.1,180.3 569.3,178.8 569.7,177.4 570.5,176.2 571.5,175.3 572.7,174.7 573.9,174.5 575.1,174.7 576.3,175.3 577.3,176.2 578.1,177.4 578.5,178.8 578.7,180.3 578.7,193.0" stroke="#5e58bc" stroke-width="0.60" fill="none"/>
<rect x="497.5" y="179.1" width="0.9" height="12.8" fill="url(#sg)" opacity="0.72"/>
<rect x="499.9" y="185.8" width="0.9" height="7.5" fill="url(#sg)" opacity="0.41"/>
<rect x="503.9" y="182.3" width="0.9" height="11.3" fill="url(#sg)" opacity="0.41"/>
<rect x="506.6" y="178.3" width="0.9" height="14.4" fill="url(#sg)" opacity="0.60"/>
<rect x="509.2" y="185.1" width="0.9" height="13.8" fill="url(#sg)" opacity="0.77"/>
<rect x="511.8" y="185.4" width="0.9" height="14.8" fill="url(#sg)" opacity="0.63"/>
<rect x="514.6" y="188.2" width="0.9" height="10.8" fill="url(#sg)" opacity="0.69"/>
<rect x="516.7" y="183.5" width="0.9" height="16.8" fill="url(#sg)" opacity="0.48"/>
<rect x="519.3" y="185.0" width="0.9" height="13.6" fill="url(#sg)" opacity="0.37"/>
<rect x="529.9" y="187.7" width="0.9" height="18.3" fill="url(#sg)" opacity="0.38"/>
<rect x="534.7" y="185.6" width="0.9" height="20.3" fill="url(#sg)" opacity="0.64"/>
<rect x="539.2" y="191.6" width="0.9" height="11.4" fill="url(#sg)" opacity="0.47"/>
<rect x="544.7" y="182.2" width="0.9" height="9.3" fill="url(#sg)" opacity="0.52"/>
<rect x="547.8" y="183.0" width="0.9" height="8.1" fill="url(#sg)" opacity="0.62"/>
<rect x="549.6" y="183.4" width="0.9" height="8.7" fill="url(#sg)" opacity="0.37"/>
<rect x="553.7" y="179.8" width="0.9" height="12.3" fill="url(#sg)" opacity="0.78"/>
<rect x="570.0" y="179.9" width="0.9" height="13.7" fill="url(#sg)" opacity="0.44"/>
<rect x="574.2" y="182.6" width="0.9" height="11.3" fill="url(#sg)" opacity="0.36"/>
<rect x="576.1" y="182.9" width="0.9" height="12.0" fill="url(#sg)" opacity="0.43"/>
<rect x="551.4" y="169.0" width="0.9" height="12.0" fill="url(#sg)" opacity="0.40"/>
<rect x="554.7" y="167.8" width="0.9" height="13.8" fill="url(#sg)" opacity="0.53"/>
<rect x="557.3" y="165.9" width="0.9" height="16.3" fill="url(#sg)" opacity="0.46"/>
<rect x="561.1" y="162.2" width="0.9" height="18.4" fill="url(#sg)" opacity="0.77"/>
<rect x="563.6" y="165.5" width="0.9" height="16.8" fill="url(#sg)" opacity="0.59"/>
<rect x="566.0" y="162.5" width="0.9" height="18.5" fill="url(#sg)" opacity="0.72"/>
<rect x="568.5" y="174.0" width="0.9" height="8.1" fill="url(#sg)" opacity="0.79"/>
<rect x="571.0" y="166.4" width="0.9" height="14.5" fill="url(#sg)" opacity="0.60"/>
</g>
<path d="M376.8,172.4 L376.8,58.9" stroke="#5a5a5a" stroke-width="1" fill="none"/>
<path d="M376.8,172.4 h-3" stroke="#5a5a5a" stroke-width="0.9"/>
<text x="370.3" y="175.0" class="tk" text-anchor="end" textLength="4.56" lengthAdjust="spacingAndGlyphs">0</text>
<path d="M376.8,149.7 h-3" stroke="#5a5a5a" stroke-width="0.9"/>
<text x="370.3" y="152.3" class="tk" text-anchor="end" textLength="11.40" lengthAdjust="spacingAndGlyphs">0.2</text>
<path d="M376.8,127.0 h-3" stroke="#5a5a5a" stroke-width="0.9"/>
<text x="370.3" y="129.6" class="tk" text-anchor="end" textLength="11.40" lengthAdjust="spacingAndGlyphs">0.4</text>
<path d="M376.8,104.3 h-3" stroke="#5a5a5a" stroke-width="0.9"/>
<text x="370.3" y="106.9" class="tk" text-anchor="end" textLength="11.40" lengthAdjust="spacingAndGlyphs">0.6</text>
<path d="M376.8,81.6 h-3" stroke="#5a5a5a" stroke-width="0.9"/>
<text x="370.3" y="84.2" class="tk" text-anchor="end" textLength="11.40" lengthAdjust="spacingAndGlyphs">0.8</text>
<path d="M376.8,58.9 h-3" stroke="#5a5a5a" stroke-width="0.9"/>
<text x="370.3" y="61.5" class="tk" text-anchor="end" textLength="4.56" lengthAdjust="spacingAndGlyphs">1</text>
<text x="388.6" y="194.7" class="tk" text-anchor="middle" textLength="13.68" lengthAdjust="spacingAndGlyphs">150</text>
<text x="423.4" y="208.5" class="tk" text-anchor="middle" textLength="13.68" lengthAdjust="spacingAndGlyphs">100</text>
<text x="459.7" y="222.2" class="tk" text-anchor="middle" textLength="9.12" lengthAdjust="spacingAndGlyphs">50</text>
<text x="548.2" y="229.6" class="tk" text-anchor="middle" textLength="9.12" lengthAdjust="spacingAndGlyphs">50</text>
<text x="581.8" y="222.5" class="tk" text-anchor="middle" textLength="13.68" lengthAdjust="spacingAndGlyphs">100</text>
<text x="611.7" y="215.6" class="tk" text-anchor="middle" textLength="13.68" lengthAdjust="spacingAndGlyphs">150</text>
<text x="640.1" y="208.7" class="tk" text-anchor="middle" textLength="13.68" lengthAdjust="spacingAndGlyphs">200</text>
<text x="671.6" y="201.2" class="tk" text-anchor="middle" textLength="13.68" lengthAdjust="spacingAndGlyphs">250</text>
<rect x="474.1" y="14.1" width="109.9" height="42.0" fill="#fff"/></g>
<g id="BL"><path d="M23.5,447.9 L23.5,341.9 M52.5,440.9 L52.5,334.9 M81.5,434.0 L81.5,328.0 M110.5,427.0 L110.5,321.0 M139.5,420.0 L139.5,314.0 M168.5,413.0 L168.5,307.0 M205.9,419.5 L205.9,313.5 M238.6,432.8 L238.6,326.8 M272.5,446.5 L272.5,340.5 M23.5,447.9 L182.0,409.8 L304.5,459.5 M23.5,426.7 L182.0,388.6 L304.5,438.3 M23.5,405.5 L182.0,367.4 L304.5,417.1 M23.5,384.3 L182.0,346.2 L304.5,395.9 M23.5,363.1 L182.0,325.0 L304.5,374.7 M23.5,341.9 L182.0,303.8 L304.5,353.5" stroke="#e6e6e6" stroke-width="1" fill="none"/>
<path d="M23.5,447.9 L146.0,497.6 L304.5,459.5" stroke="#5a5a5a" stroke-width="0.8" fill="none"/>
<polygon points="146.0,497.6 304.5,459.5 182.0,409.8 23.5,447.9" fill="#3a2f9e"/>
<g filter="url(#soft)">
<polygon points="37.4,445.3 37.4,422.2 39.3,420.3 42.1,422.2 43.9,425.9 47.6,406.4 50.4,377.6 52.3,393.4 53.5,385.0 55.6,381.3 57.8,397.1 59.7,410.1 62.5,413.8 65.3,415.7 67.1,406.4 70.8,399.0 73.6,402.7 76.4,411.9 79.2,410.1 81.9,370.2 83.8,378.6 85.7,384.1 87.5,389.7 89.7,395.3 92.2,399.0 94.0,402.7 96.8,408.2 99.6,410.1 103.3,397.1 105.7,392.5 107.9,395.3 110.7,408.2 113.5,406.4 117.5,390.0 120.2,383.2 122.8,397.1 124.5,400.0 126.7,398.0 128.6,402.7 131.3,409.2 133.2,408.2 135.0,415.7 136.0,421.2 136.0,441.6 110.0,452.0 70.0,455.0 45.0,453.0" fill="#3a31a2"/>
<polygon points="37.3,436.0 37.4,434.4 37.5,432.9 37.6,431.3 37.8,429.7 37.9,428.1 38.0,426.6 38.2,425.0 38.4,423.4 38.7,421.9 39.5,420.3 39.5,420.3 40.6,421.9 41.0,423.4 41.2,425.0 41.5,426.6 41.7,428.1 41.9,429.7 42.1,431.3 42.2,432.9 42.4,434.4 42.5,436.0" fill="#2c2484"/>
<polygon points="43.5,438.0 43.6,436.7 43.7,435.4 43.8,434.1 44.0,432.8 44.1,431.5 44.2,430.2 44.4,428.9 44.6,427.6 44.9,426.3 45.5,425.0 45.5,425.0 46.1,426.3 46.4,427.6 46.6,428.9 46.8,430.2 46.9,431.5 47.0,432.8 47.2,434.1 47.3,435.4 47.4,436.7 47.5,438.0" fill="#3d4cc0"/>
<polygon points="47.1,408.0 47.2,406.0 48.5,393.4 48.8,390.0 49.4,385.0 50.4,377.6 50.4,377.6 52.0,385.0 52.6,390.0 53.0,393.4 53.5,406.0 53.5,408.0 50.3,424.0" fill="#2eb4c4"/>
<polygon points="50.1,380.0 48.8,390.0 47.2,406.0 46.2,420.0 45.8,436.0 46.5,436.0 46.9,420.0 47.9,406.0 49.5,390.0 50.8,380.0" fill="#2c2484"/>
<polygon points="66.4,412.0 66.5,411.9 67.1,406.4 68.3,402.7 68.5,402.0 70.8,399.0 70.8,399.0 73.1,402.0 73.6,402.7 74.7,406.4 76.4,411.9 76.4,412.0 71.4,426.0" fill="#2eb4c4"/>
<polygon points="53.0,436.0 53.4,413.8 53.5,410.1 53.5,410.0 54.1,397.1 54.5,390.0 54.8,388.0 55.6,381.3 55.6,381.3 56.5,388.0 56.8,390.0 57.8,397.1 59.7,410.0 59.7,410.1 62.5,413.8 63.0,436.0" fill="#2c2484"/>
<polygon points="59.5,438.0 59.6,435.4 59.8,432.8 59.9,430.2 60.1,427.6 60.2,425.0 60.4,422.4 60.6,419.8 60.9,417.2 61.2,414.6 62.0,412.0 62.0,412.0 62.9,414.6 63.3,417.2 63.6,419.8 63.9,422.4 64.1,425.0 64.3,427.6 64.5,430.2 64.7,432.8 64.8,435.4 65.0,438.0" fill="#3d4cc0"/>
<polygon points="80.0,400.0 80.1,399.0 80.3,395.3 80.5,389.7 80.8,385.0 80.9,384.1 81.3,378.6 81.9,370.2 81.9,370.2 83.8,378.6 85.7,384.1 86.0,385.0 87.5,389.7 89.7,395.3 92.2,399.0 92.7,400.0 86.3,426.0" fill="#2eb4c4"/>
<polygon points="81.9,370.2 80.8,385.0 80.0,400.0 79.5,420.0 79.2,436.0 81.0,436.0 81.3,420.0 81.8,400.0 82.6,385.0 83.7,370.2" fill="#2c2484"/>
<polygon points="91.5,438.0 91.6,434.7 91.8,431.4 91.9,428.1 92.1,424.8 92.2,421.5 92.4,418.2 92.6,414.9 92.9,411.6 93.2,408.3 94.0,405.0 94.0,405.0 94.9,408.3 95.3,411.6 95.6,414.9 95.9,418.2 96.1,421.5 96.3,424.8 96.5,428.1 96.7,431.4 96.8,434.7 97.0,438.0" fill="#2c2484"/>
<polygon points="101.2,410.0 101.3,408.2 101.5,405.0 103.3,397.1 104.2,395.3 105.7,392.5 105.7,392.5 107.9,395.3 108.3,397.1 110.0,405.0 110.7,408.2 110.8,410.0 106.0,426.0" fill="#2eb4c4"/>
<polygon points="117.2,405.0 117.5,400.0 117.9,397.1 118.5,392.0 118.9,390.0 120.2,383.2 120.2,383.2 121.5,390.0 121.9,392.0 122.8,397.1 122.9,400.0 123.0,405.0 120.1,424.0" fill="#2eb4c4"/>
<polygon points="118.9,390.0 118.5,392.0 117.5,400.0 116.5,420.0 116.0,436.0 116.9,436.0 117.4,420.0 118.4,400.0 119.4,392.0 119.8,390.0" fill="#2c2484"/>
<polygon points="110.5,438.0 110.6,434.9 110.8,431.8 110.9,428.7 111.1,425.6 111.2,422.5 111.4,419.4 111.6,416.3 111.9,413.2 112.2,410.1 113.0,407.0 113.0,407.0 113.8,410.1 114.1,413.2 114.4,416.3 114.6,419.4 114.8,422.5 114.9,425.6 115.1,428.7 115.2,431.8 115.4,434.9 115.5,438.0" fill="#2c2484"/>
<polygon points="124.0,436.0 124.5,421.2 124.5,420.0 124.6,415.7 124.8,409.2 124.8,408.2 125.0,403.0 125.1,402.7 126.7,398.0 126.7,398.0 128.6,402.7 128.7,403.0 130.9,408.2 131.3,409.2 135.0,415.7 135.8,420.0 136.0,421.2 136.0,436.0" fill="#2c2484"/>
<polygon points="85.5,440.0 85.6,437.2 85.8,434.4 85.9,431.6 86.1,428.8 86.2,426.0 86.4,423.2 86.6,420.4 86.9,417.6 87.2,414.8 88.0,412.0 88.0,412.0 88.8,414.8 89.1,417.6 89.4,420.4 89.6,423.2 89.8,426.0 89.9,428.8 90.1,431.6 90.2,434.4 90.4,437.2 90.5,440.0" fill="#3c8ad0"/>
<polygon points="88.8,440.0 88.9,435.6 89.1,431.2 89.2,426.8 89.4,422.4 89.5,418.0 89.7,413.6 89.9,409.2 90.2,404.8 90.4,400.4 91.0,396.0 91.0,396.0 91.7,400.4 92.1,404.8 92.4,409.2 92.6,413.6 92.8,418.0 93.1,422.4 93.3,426.8 93.4,431.2 93.6,435.6 93.8,440.0" fill="#3a3aa8"/>
<polygon points="57.0,440.0 57.2,436.5 57.3,433.0 57.5,429.5 57.7,426.0 57.9,422.5 58.1,419.0 58.4,415.5 58.7,412.0 59.1,408.5 60.0,405.0 60.0,405.0 60.9,408.5 61.3,412.0 61.6,415.5 61.9,419.0 62.1,422.5 62.3,426.0 62.5,429.5 62.7,433.0 62.8,436.5 63.0,440.0" fill="#4646b4"/>
<polygon points="72.0,442.0 72.2,439.0 72.3,436.0 72.5,433.0 72.7,430.0 72.9,427.0 73.1,424.0 73.4,421.0 73.7,418.0 74.1,415.0 75.0,412.0 75.0,412.0 75.9,415.0 76.3,418.0 76.6,421.0 76.9,424.0 77.1,427.0 77.3,430.0 77.5,433.0 77.7,436.0 77.8,439.0 78.0,442.0" fill="#4444b2"/>
<polygon points="100.0,442.0 100.2,439.2 100.3,436.4 100.5,433.6 100.7,430.8 100.9,428.0 101.1,425.2 101.4,422.4 101.7,419.6 102.1,416.8 103.0,414.0 103.0,414.0 103.9,416.8 104.3,419.6 104.6,422.4 104.9,425.2 105.1,428.0 105.3,430.8 105.5,433.6 105.7,436.4 105.8,439.2 106.0,442.0" fill="#4848b8"/>
<polygon points="115.0,442.0 115.2,439.3 115.3,436.6 115.5,433.9 115.7,431.2 115.9,428.5 116.1,425.8 116.4,423.1 116.7,420.4 117.1,417.7 118.0,415.0 118.0,415.0 118.9,417.7 119.3,420.4 119.6,423.1 119.9,425.8 120.1,428.5 120.3,431.2 120.5,433.9 120.7,436.6 120.8,439.3 121.0,442.0" fill="#4444b2"/>
<polygon points="128.0,442.0 128.2,439.2 128.3,436.4 128.5,433.6 128.7,430.8 128.9,428.0 129.1,425.2 129.4,422.4 129.7,419.6 130.1,416.8 131.0,414.0 131.0,414.0 131.9,416.8 132.3,419.6 132.6,422.4 132.9,425.2 133.1,428.0 133.3,430.8 133.5,433.6 133.7,436.4 133.8,439.2 134.0,442.0" fill="#4646b4"/>
<polygon points="45.5,442.0 45.6,439.8 45.8,437.6 45.9,435.4 46.1,433.2 46.2,431.0 46.4,428.8 46.6,426.6 46.9,424.4 47.2,422.2 48.0,420.0 48.0,420.0 48.8,422.2 49.1,424.4 49.4,426.6 49.6,428.8 49.8,431.0 49.9,433.2 50.1,435.4 50.2,437.6 50.4,439.8 50.5,442.0" fill="#4848b8"/>
<rect x="37.3" y="433.5" width="0.9" height="19.4" fill="url(#sg)" opacity="0.54"/>
<rect x="39.8" y="429.8" width="0.9" height="22.5" fill="url(#sg)" opacity="0.56"/>
<rect x="43.1" y="445.7" width="0.9" height="8.1" fill="url(#sg)" opacity="0.49"/>
<rect x="46.7" y="431.6" width="0.9" height="22.3" fill="url(#sg)" opacity="0.42"/>
<rect x="49.2" y="427.8" width="0.9" height="26.0" fill="url(#sg)" opacity="0.67"/>
<rect x="53.7" y="443.0" width="0.9" height="8.6" fill="url(#sg)" opacity="0.46"/>
<rect x="57.0" y="427.7" width="0.9" height="25.1" fill="url(#sg)" opacity="0.48"/>
<rect x="59.3" y="440.3" width="0.9" height="10.2" fill="url(#sg)" opacity="0.76"/>
<rect x="62.5" y="436.9" width="0.9" height="14.2" fill="url(#sg)" opacity="0.54"/>
<rect x="64.8" y="428.8" width="0.9" height="23.6" fill="url(#sg)" opacity="0.42"/>
<rect x="69.0" y="426.0" width="0.9" height="25.4" fill="url(#sg)" opacity="0.75"/>
<rect x="73.1" y="431.0" width="0.9" height="18.5" fill="url(#sg)" opacity="0.66"/>
<rect x="75.3" y="427.2" width="0.9" height="22.9" fill="url(#sg)" opacity="0.40"/>
<rect x="79.9" y="433.1" width="0.9" height="15.4" fill="url(#sg)" opacity="0.48"/>
<rect x="83.1" y="423.7" width="0.9" height="25.9" fill="url(#sg)" opacity="0.49"/>
<rect x="85.0" y="429.4" width="0.9" height="20.9" fill="url(#sg)" opacity="0.80"/>
<rect x="88.3" y="431.0" width="0.9" height="17.9" fill="url(#sg)" opacity="0.67"/>
<rect x="90.7" y="430.3" width="0.9" height="18.0" fill="url(#sg)" opacity="0.61"/>
<rect x="93.1" y="435.1" width="0.9" height="14.3" fill="url(#sg)" opacity="0.76"/>
<rect x="96.0" y="434.3" width="0.9" height="13.5" fill="url(#sg)" opacity="0.35"/>
<rect x="98.0" y="425.0" width="0.9" height="22.0" fill="url(#sg)" opacity="0.49"/>
<rect x="101.8" y="422.9" width="0.9" height="24.2" fill="url(#sg)" opacity="0.78"/>
<rect x="104.9" y="420.6" width="0.9" height="25.3" fill="url(#sg)" opacity="0.60"/>
<rect x="109.4" y="432.2" width="0.9" height="14.8" fill="url(#sg)" opacity="0.42"/>
<rect x="113.8" y="438.3" width="0.9" height="9.2" fill="url(#sg)" opacity="0.70"/>
<rect x="118.0" y="423.1" width="0.9" height="23.1" fill="url(#sg)" opacity="0.33"/>
<rect x="120.6" y="431.0" width="0.9" height="15.6" fill="url(#sg)" opacity="0.39"/>
<rect x="122.6" y="422.0" width="0.9" height="24.2" fill="url(#sg)" opacity="0.79"/>
<rect x="126.7" y="432.9" width="0.9" height="12.5" fill="url(#sg)" opacity="0.78"/>
<rect x="130.1" y="435.8" width="0.9" height="8.5" fill="url(#sg)" opacity="0.41"/>
<rect x="134.4" y="419.9" width="0.9" height="23.9" fill="url(#sg)" opacity="0.60"/>
<rect x="93.9" y="463.3" width="0.9" height="6.2" fill="url(#sg)" opacity="0.80"/>
<rect x="96.3" y="457.1" width="0.9" height="12.5" fill="url(#sg)" opacity="0.47"/>
<rect x="100.8" y="453.7" width="0.9" height="15.6" fill="url(#sg)" opacity="0.46"/>
<rect x="104.4" y="454.4" width="0.9" height="12.9" fill="url(#sg)" opacity="0.76"/>
<rect x="108.4" y="455.0" width="0.9" height="14.8" fill="url(#sg)" opacity="0.59"/>
<polygon points="149.3,462.0 149.5,459.1 149.8,456.3 150.1,453.4 150.4,450.6 150.7,447.8 151.1,444.9 151.5,442.1 152.0,439.2 152.7,436.4 154.5,433.5 154.5,433.5 156.5,436.4 157.2,439.2 157.7,442.1 158.1,444.9 158.5,447.8 158.9,450.6 159.2,453.4 159.5,456.3 159.7,459.1 160.0,462.0" fill="#4a48b8"/>
<polygon points="151.5,452.0 151.7,450.3 151.8,448.6 152.0,446.9 152.2,445.2 152.4,443.5 152.6,441.8 152.9,440.1 153.2,438.4 153.6,436.7 154.5,435.0 154.5,435.0 155.4,436.7 155.8,438.4 156.1,440.1 156.4,441.8 156.6,443.5 156.8,445.2 157.0,446.9 157.2,448.6 157.3,450.3 157.5,452.0" fill="#2c9ad8"/>
<rect x="147.8" y="456.4" width="0.9" height="16.7" fill="url(#sg)" opacity="0.34"/>
<rect x="151.5" y="462.4" width="0.9" height="12.4" fill="url(#sg)" opacity="0.37"/>
<rect x="153.8" y="466.0" width="0.9" height="8.7" fill="url(#sg)" opacity="0.53"/>
<rect x="155.7" y="461.2" width="0.9" height="14.5" fill="url(#sg)" opacity="0.51"/>
<rect x="159.1" y="463.5" width="0.9" height="10.3" fill="url(#sg)" opacity="0.33"/>
<rect x="163.3" y="460.3" width="0.9" height="13.9" fill="url(#sg)" opacity="0.61"/>
<rect x="168.0" y="459.8" width="0.9" height="15.1" fill="url(#sg)" opacity="0.48"/>
<polygon points="175.9,452.8 177.2,429.0 177.9,406.8 179.5,373.4 181.3,356.7 183.3,373.4 184.6,406.8 185.0,420.2 190.6,406.8 192.8,402.4 196.2,411.3 199.5,397.5 202.9,404.6 205.1,415.7 208.4,418.0 210.7,415.7 215.1,415.7 218.5,420.2 220.7,416.8 224.0,415.7 228.5,419.0 230.7,423.5 234.0,420.2 236.3,416.8 240.7,415.7 244.0,420.2 245.2,429.0 245.2,440.2 230.0,452.0 200.0,458.0" fill="#443fae"/>
<polygon points="176.5,455.0 177.2,429.0 177.5,420.2 177.9,406.8 179.5,373.4 181.3,356.7 181.3,356.7 183.3,373.4 184.6,406.8 185.0,420.2 185.1,429.0 185.5,455.0" fill="url(#g1)"/>
<polygon points="179.4,375.0 177.9,406.8 177.3,425.0 177.8,425.0 178.4,406.8 179.9,375.0" fill="#2a7ab0"/>
<polygon points="189.5,440.0 190.0,415.0 190.4,411.3 191.0,406.0 192.8,402.4 192.8,402.4 194.5,406.0 196.2,411.3 196.3,415.0 197.0,440.0" fill="#4a52c4"/>
<polygon points="191.3,410.0 191.4,409.3 191.5,408.5 191.6,407.8 191.7,407.0 191.8,406.3 191.9,405.6 192.1,404.8 192.2,404.1 192.4,403.3 192.8,402.6 192.8,402.6 193.2,403.3 193.4,404.1 193.5,404.8 193.7,405.6 193.8,406.3 193.9,407.0 194.0,407.8 194.1,408.5 194.2,409.3 194.3,410.0" fill="#3aa0d0"/>
<polygon points="196.5,440.0 197.0,415.0 197.8,404.6 198.0,402.0 198.5,400.5 199.5,397.5 199.5,397.5 201.2,400.5 201.8,402.0 202.9,404.6 204.0,415.0 204.5,440.0" fill="#5450c0"/>
<polygon points="199.3,398.0 198.0,402.0 197.0,415.0 196.7,430.0 197.7,430.0 198.0,415.0 199.0,402.0 200.3,398.0" fill="#2c2484"/>
<polygon points="207.1,429.6 207.2,428.2 207.3,426.8 207.5,425.4 207.6,424.0 207.7,422.6 207.9,421.2 208.1,419.8 208.3,418.4 208.6,417.0 209.5,415.6 209.5,415.6 210.4,417.0 210.7,418.4 210.9,419.8 211.1,421.2 211.3,422.6 211.4,424.0 211.5,425.4 211.7,426.8 211.8,428.2 211.9,429.6" fill="#4c48b8"/>
<polygon points="207.6,419.6 207.7,419.2 207.8,418.8 207.9,418.4 208.0,418.0 208.1,417.6 208.2,417.2 208.4,416.8 208.6,416.4 208.8,416.0 209.5,415.6 209.5,415.6 210.2,416.0 210.4,416.4 210.6,416.8 210.8,417.2 210.9,417.6 211.0,418.0 211.1,418.4 211.2,418.8 211.3,419.2 211.4,419.6" fill="#2c2484"/>
<polygon points="212.1,429.6 212.2,428.2 212.3,426.8 212.5,425.4 212.6,424.0 212.7,422.6 212.9,421.2 213.1,419.8 213.3,418.4 213.6,417.0 214.5,415.6 214.5,415.6 215.4,417.0 215.7,418.4 215.9,419.8 216.1,421.2 216.3,422.6 216.4,424.0 216.5,425.4 216.7,426.8 216.8,428.2 216.9,429.6" fill="#4c48b8"/>
<polygon points="212.6,419.6 212.7,419.2 212.8,418.8 212.9,418.4 213.0,418.0 213.1,417.6 213.2,417.2 213.4,416.8 213.6,416.4 213.8,416.0 214.5,415.6 214.5,415.6 215.2,416.0 215.4,416.4 215.6,416.8 215.8,417.2 215.9,417.6 216.0,418.0 216.1,418.4 216.2,418.8 216.3,419.2 216.4,419.6" fill="#2c2484"/>
<polygon points="217.9,430.5 218.0,429.1 218.1,427.7 218.2,426.3 218.4,424.9 218.5,423.5 218.7,422.1 218.9,420.7 219.1,419.3 219.4,417.9 220.2,416.5 220.2,416.5 221.0,417.9 221.3,419.3 221.5,420.7 221.7,422.1 221.9,423.5 222.0,424.9 222.2,426.3 222.3,427.7 222.4,429.1 222.5,430.5" fill="#4c48b8"/>
<polygon points="218.4,420.5 218.4,420.1 218.5,419.7 218.6,419.3 218.7,418.9 218.9,418.5 219.0,418.1 219.1,417.7 219.3,417.3 219.5,416.9 220.2,416.5 220.2,416.5 220.9,416.9 221.1,417.3 221.3,417.7 221.4,418.1 221.5,418.5 221.7,418.9 221.8,419.3 221.9,419.7 222.0,420.1 222.0,420.5" fill="#2c2484"/>
<polygon points="222.9,429.6 223.0,428.2 223.1,426.8 223.3,425.4 223.4,424.0 223.6,422.6 223.8,421.2 224.0,419.8 224.2,418.4 224.6,417.0 225.5,415.6 225.5,415.6 226.4,417.0 226.8,418.4 227.0,419.8 227.2,421.2 227.4,422.6 227.6,424.0 227.7,425.4 227.9,426.8 228.0,428.2 228.1,429.6" fill="#4c48b8"/>
<polygon points="223.4,419.6 223.5,419.2 223.6,418.8 223.7,418.4 223.8,418.0 224.0,417.6 224.1,417.2 224.3,416.8 224.5,416.4 224.8,416.0 225.5,415.6 225.5,415.6 226.2,416.0 226.5,416.4 226.7,416.8 226.9,417.2 227.0,417.6 227.2,418.0 227.3,418.4 227.4,418.8 227.5,419.2 227.6,419.6" fill="#2c2484"/>
<polygon points="232.6,430.5 232.7,429.1 232.8,427.7 233.0,426.3 233.1,424.9 233.2,423.5 233.4,422.1 233.6,420.7 233.8,419.3 234.1,417.9 235.0,416.5 235.0,416.5 235.9,417.9 236.2,419.3 236.4,420.7 236.6,422.1 236.8,423.5 236.9,424.9 237.0,426.3 237.2,427.7 237.3,429.1 237.4,430.5" fill="#4c48b8"/>
<polygon points="233.1,420.5 233.2,420.1 233.3,419.7 233.4,419.3 233.5,418.9 233.6,418.5 233.7,418.1 233.9,417.7 234.1,417.3 234.3,416.9 235.0,416.5 235.0,416.5 235.7,416.9 235.9,417.3 236.1,417.7 236.3,418.1 236.4,418.5 236.5,418.9 236.6,419.3 236.7,419.7 236.8,420.1 236.9,420.5" fill="#2c2484"/>
<polygon points="237.9,429.6 238.0,428.2 238.1,426.8 238.3,425.4 238.4,424.0 238.6,422.6 238.8,421.2 239.0,419.8 239.2,418.4 239.6,417.0 240.5,415.6 240.5,415.6 241.4,417.0 241.8,418.4 242.0,419.8 242.2,421.2 242.4,422.6 242.6,424.0 242.7,425.4 242.9,426.8 243.0,428.2 243.1,429.6" fill="#4c48b8"/>
<polygon points="238.4,419.6 238.5,419.2 238.6,418.8 238.7,418.4 238.8,418.0 239.0,417.6 239.1,417.2 239.3,416.8 239.5,416.4 239.8,416.0 240.5,415.6 240.5,415.6 241.2,416.0 241.5,416.4 241.7,416.8 241.9,417.2 242.0,417.6 242.2,418.0 242.3,418.4 242.4,418.8 242.5,419.2 242.6,419.6" fill="#2c2484"/>
<rect x="176.4" y="444.7" width="0.9" height="14.4" fill="url(#sg)" opacity="0.80"/>
<rect x="178.8" y="446.8" width="0.9" height="12.2" fill="url(#sg)" opacity="0.68"/>
<rect x="181.1" y="431.0" width="0.9" height="27.4" fill="url(#sg)" opacity="0.68"/>
<rect x="184.2" y="423.4" width="0.9" height="33.7" fill="url(#sg)" opacity="0.36"/>
<rect x="187.6" y="428.2" width="0.9" height="27.7" fill="url(#sg)" opacity="0.52"/>
<rect x="190.3" y="443.2" width="0.9" height="12.0" fill="url(#sg)" opacity="0.68"/>
<rect x="194.7" y="438.7" width="0.9" height="17.8" fill="url(#sg)" opacity="0.45"/>
<rect x="198.2" y="423.6" width="0.9" height="31.4" fill="url(#sg)" opacity="0.76"/>
<rect x="200.9" y="441.1" width="0.9" height="11.7" fill="url(#sg)" opacity="0.35"/>
<rect x="204.7" y="422.4" width="0.9" height="29.7" fill="url(#sg)" opacity="0.80"/>
<rect x="209.2" y="424.7" width="0.9" height="27.8" fill="url(#sg)" opacity="0.76"/>
<rect x="211.2" y="437.6" width="0.9" height="13.7" fill="url(#sg)" opacity="0.37"/>
<rect x="214.5" y="416.6" width="0.9" height="33.4" fill="url(#sg)" opacity="0.37"/>
<rect x="217.9" y="419.8" width="0.9" height="28.4" fill="url(#sg)" opacity="0.57"/>
<rect x="220.4" y="432.3" width="0.9" height="16.3" fill="url(#sg)" opacity="0.62"/>
<rect x="224.2" y="419.3" width="0.9" height="29.1" fill="url(#sg)" opacity="0.50"/>
<rect x="227.4" y="430.2" width="0.9" height="16.0" fill="url(#sg)" opacity="0.39"/>
<rect x="230.9" y="415.5" width="0.9" height="31.0" fill="url(#sg)" opacity="0.42"/>
<rect x="233.9" y="426.1" width="0.9" height="20.8" fill="url(#sg)" opacity="0.46"/>
<rect x="237.0" y="433.1" width="0.9" height="10.9" fill="url(#sg)" opacity="0.79"/>
<rect x="241.0" y="419.9" width="0.9" height="22.9" fill="url(#sg)" opacity="0.59"/>
<rect x="244.1" y="428.0" width="0.9" height="15.3" fill="url(#sg)" opacity="0.45"/>
<rect x="180.8" y="449.1" width="0.9" height="18.1" fill="url(#sg)" opacity="0.41"/>
<rect x="185.2" y="459.6" width="0.9" height="8.5" fill="url(#sg)" opacity="0.78"/>
<rect x="187.8" y="456.0" width="0.9" height="13.1" fill="url(#sg)" opacity="0.59"/>
<rect x="190.0" y="450.0" width="0.9" height="18.0" fill="url(#sg)" opacity="0.56"/>
<rect x="194.2" y="450.2" width="0.9" height="17.9" fill="url(#sg)" opacity="0.39"/>
<rect x="197.1" y="459.3" width="0.9" height="9.2" fill="url(#sg)" opacity="0.79"/>
</g>
<path d="M23.5,447.9 L23.5,341.9" stroke="#5a5a5a" stroke-width="1" fill="none"/>
<path d="M23.5,447.9 h-3" stroke="#5a5a5a" stroke-width="0.9"/>
<text x="17.0" y="450.5" class="tk" text-anchor="end" textLength="4.56" lengthAdjust="spacingAndGlyphs">0</text>
<path d="M23.5,426.7 h-3" stroke="#5a5a5a" stroke-width="0.9"/>
<text x="17.0" y="429.3" class="tk" text-anchor="end" textLength="11.40" lengthAdjust="spacingAndGlyphs">0.2</text>
<path d="M23.5,405.5 h-3" stroke="#5a5a5a" stroke-width="0.9"/>
<text x="17.0" y="408.1" class="tk" text-anchor="end" textLength="11.40" lengthAdjust="spacingAndGlyphs">0.4</text>
<path d="M23.5,384.3 h-3" stroke="#5a5a5a" stroke-width="0.9"/>
<text x="17.0" y="386.9" class="tk" text-anchor="end" textLength="11.40" lengthAdjust="spacingAndGlyphs">0.6</text>
<path d="M23.5,363.1 h-3" stroke="#5a5a5a" stroke-width="0.9"/>
<text x="17.0" y="365.7" class="tk" text-anchor="end" textLength="11.40" lengthAdjust="spacingAndGlyphs">0.8</text>
<path d="M23.5,341.9 h-3" stroke="#5a5a5a" stroke-width="0.9"/>
<text x="17.0" y="344.5" class="tk" text-anchor="end" textLength="4.56" lengthAdjust="spacingAndGlyphs">1</text>
<text x="33.6" y="468.4" class="tk" text-anchor="middle" textLength="13.68" lengthAdjust="spacingAndGlyphs">150</text>
<text x="67.0" y="482.3" class="tk" text-anchor="middle" textLength="13.68" lengthAdjust="spacingAndGlyphs">100</text>
<text x="100.6" y="494.7" class="tk" text-anchor="middle" textLength="9.12" lengthAdjust="spacingAndGlyphs">50</text>
<text x="185.3" y="502.6" class="tk" text-anchor="middle" textLength="9.12" lengthAdjust="spacingAndGlyphs">50</text>
<text x="215.3" y="494.7" class="tk" text-anchor="middle" textLength="13.68" lengthAdjust="spacingAndGlyphs">100</text>
<text x="244.5" y="488.0" class="tk" text-anchor="middle" textLength="13.68" lengthAdjust="spacingAndGlyphs">150</text>
<text x="272.8" y="481.6" class="tk" text-anchor="middle" textLength="13.68" lengthAdjust="spacingAndGlyphs">200</text>
<text x="301.5" y="475.2" class="tk" text-anchor="middle" textLength="13.68" lengthAdjust="spacingAndGlyphs">250</text>
<rect x="113.9" y="292.9" width="96.3" height="37.6" fill="#fff"/></g>
<g id="BR"><path d="M381.6,456.1 L381.6,347.5 M411.3,449.0 L411.3,340.4 M441.0,441.9 L441.0,333.3 M470.7,434.9 L470.7,326.3 M500.4,427.8 L500.4,319.2 M530.1,420.7 L530.1,312.1 M572.2,426.6 L572.2,318.0 M607.3,440.8 L607.3,332.2 M641.2,454.4 L641.2,345.8 M381.6,456.1 L547.4,416.6 L674.8,468.0 M381.6,429.0 L547.4,389.5 L674.8,440.9 M381.6,401.8 L547.4,362.3 L674.8,413.7 M381.6,374.7 L547.4,335.2 L674.8,386.6 M381.6,347.5 L547.4,308.0 L674.8,359.4" stroke="#e6e6e6" stroke-width="1" fill="none"/>
<path d="M381.6,456.1 L509.0,507.5 L674.8,468.0" stroke="#5a5a5a" stroke-width="0.8" fill="none"/>
<polygon points="509.0,507.5 674.8,468.0 547.4,416.6 381.6,456.1" fill="#3a2f9e"/>
<g filter="url(#soft)">
<polygon points="530.8,491.0 531.0,479.9 531.6,453.9 532.3,427.9 533.6,402.0 534.7,376.0 536.2,362.5 536.2,362.5 538.0,376.0 539.4,402.0 539.9,427.9 541.4,453.9 541.9,479.9 542.2,491.0" fill="url(#g2)"/>
<polygon points="533.6,426.0 539.6,426.0 536.8,442.0" fill="#3a5cc4"/>
<polygon points="536.0,364.0 534.7,376.0 533.6,402.0 532.3,427.9 532.2,430.0 532.8,430.0 532.9,427.9 534.2,402.0 535.3,376.0 536.6,364.0" fill="#2a88b8"/>
<rect x="531.0" y="474.4" width="0.9" height="16.3" fill="url(#sg)" opacity="0.64"/>
<rect x="533.2" y="477.0" width="0.9" height="13.7" fill="url(#sg)" opacity="0.68"/>
<rect x="535.5" y="468.2" width="0.9" height="20.6" fill="url(#sg)" opacity="0.37"/>
<rect x="538.9" y="473.1" width="0.9" height="16.6" fill="url(#sg)" opacity="0.80"/>
<rect x="541.0" y="465.9" width="0.9" height="25.0" fill="url(#sg)" opacity="0.50"/>
<polygon points="501.1,464.6 501.3,463.0 501.4,461.5 501.6,459.9 501.8,458.3 502.1,456.7 502.3,455.1 502.6,453.5 503.0,452.0 503.6,450.4 505.6,448.8 505.6,448.8 507.6,450.4 508.2,452.0 508.6,453.5 508.9,455.1 509.1,456.7 509.4,458.3 509.6,459.9 509.8,461.5 509.9,463.0 510.1,464.6" fill="#433db0"/>
<polyline points="501.1,470.0 501.1,453.9 501.3,452.5 501.7,451.2 502.4,450.1 503.4,449.2 504.4,448.7 505.6,448.5 506.8,448.7 507.9,449.2 508.8,450.1 509.5,451.2 509.9,452.5 510.1,453.9 510.1,470.0" stroke="#5e58bc" stroke-width="0.60" fill="none"/>
<rect x="501.2" y="468.3" width="0.9" height="9.0" fill="url(#sg)" opacity="0.75"/>
<rect x="504.5" y="468.8" width="0.9" height="7.0" fill="url(#sg)" opacity="0.55"/>
<rect x="508.8" y="461.0" width="0.9" height="15.4" fill="url(#sg)" opacity="0.74"/>
<polygon points="571.0,467.0 571.2,465.5 571.3,464.1 571.5,462.6 571.7,461.1 571.9,459.6 572.2,458.2 572.4,456.7 572.8,455.2 573.3,453.8 575.2,452.3 575.2,452.3 577.1,453.8 577.6,455.2 578.0,456.7 578.2,458.2 578.5,459.6 578.7,461.1 578.9,462.6 579.1,464.1 579.2,465.5 579.4,467.0" fill="#433db0"/>
<polyline points="571.0,472.0 571.0,457.0 571.1,455.7 571.6,454.5 572.2,453.5 573.1,452.7 574.1,452.2 575.2,452.0 576.3,452.2 577.3,452.7 578.2,453.5 578.8,454.5 579.3,455.7 579.4,457.0 579.4,472.0" stroke="#5e58bc" stroke-width="0.60" fill="none"/>
<rect x="572.1" y="463.9" width="0.9" height="14.2" fill="url(#sg)" opacity="0.44"/>
<rect x="575.9" y="462.2" width="0.9" height="15.1" fill="url(#sg)" opacity="0.39"/>
<rect x="579.7" y="467.1" width="0.9" height="11.0" fill="url(#sg)" opacity="0.78"/>
</g>
<path d="M381.6,456.1 L381.6,347.5" stroke="#5a5a5a" stroke-width="1" fill="none"/>
<path d="M381.6,456.1 h-3" stroke="#5a5a5a" stroke-width="0.9"/>
<text x="375.1" y="458.7" class="tk" text-anchor="end" textLength="4.56" lengthAdjust="spacingAndGlyphs">0</text>
<path d="M381.6,429.0 h-3" stroke="#5a5a5a" stroke-width="0.9"/>
<text x="375.1" y="431.6" class="tk" text-anchor="end" textLength="11.40" lengthAdjust="spacingAndGlyphs">0.2</text>
<path d="M381.6,401.8 h-3" stroke="#5a5a5a" stroke-width="0.9"/>
<text x="375.1" y="404.4" class="tk" text-anchor="end" textLength="11.40" lengthAdjust="spacingAndGlyphs">0.4</text>
<path d="M381.6,374.7 h-3" stroke="#5a5a5a" stroke-width="0.9"/>
<text x="375.1" y="377.3" class="tk" text-anchor="end" textLength="11.40" lengthAdjust="spacingAndGlyphs">0.6</text>
<path d="M381.6,347.5 h-3" stroke="#5a5a5a" stroke-width="0.9"/>
<text x="375.1" y="350.1" class="tk" text-anchor="end" textLength="11.40" lengthAdjust="spacingAndGlyphs">0.8</text>
<text x="392.8" y="477.9" class="tk" text-anchor="middle" textLength="13.68" lengthAdjust="spacingAndGlyphs">150</text>
<text x="427.0" y="491.5" class="tk" text-anchor="middle" textLength="13.68" lengthAdjust="spacingAndGlyphs">100</text>
<text x="463.8" y="505.5" class="tk" text-anchor="middle" textLength="9.12" lengthAdjust="spacingAndGlyphs">50</text>
<text x="550.7" y="512.0" class="tk" text-anchor="middle" textLength="9.12" lengthAdjust="spacingAndGlyphs">50</text>
<text x="582.8" y="504.7" class="tk" text-anchor="middle" textLength="13.68" lengthAdjust="spacingAndGlyphs">100</text>
<text x="613.5" y="498.0" class="tk" text-anchor="middle" textLength="13.68" lengthAdjust="spacingAndGlyphs">150</text>
<text x="642.7" y="491.0" class="tk" text-anchor="middle" textLength="13.68" lengthAdjust="spacingAndGlyphs">200</text>
<text x="672.7" y="484.2" class="tk" text-anchor="middle" textLength="13.68" lengthAdjust="spacingAndGlyphs">250</text>
<rect x="476.6" y="293.8" width="109.2" height="42.0" fill="#fff"/></g>
</g>
<text x="129.6" y="48.0" class="st" textLength="82.4" lengthAdjust="spacingAndGlyphs">Similarity Partition</text>
<text transform="translate(15.7,211.6) skewY(22.29)" class="lbl" textLength="102.8" lengthAdjust="spacingAndGlyphs">2<tspan class="sup" dy="-3.2">nd</tspan><tspan dy="3.2">dimension indices</tspan></text>
<text transform="translate(203.8,250.8) skewY(-14.04)" class="lbl" textLength="103.3" lengthAdjust="spacingAndGlyphs">1<tspan class="sup" dy="-4">st</tspan><tspan dy="4">dimension indices</tspan></text>
<text x="480.1" y="46.1" class="st" textLength="92.9" lengthAdjust="spacingAndGlyphs">Disimilarity Partition</text>
<text transform="translate(370.5,212.5) skewY(23.75)" class="lbl" textLength="99.5" lengthAdjust="spacingAndGlyphs">2<tspan class="sup" dy="-3.2">nd</tspan><tspan dy="3.2">dimension indices</tspan></text>
<text transform="translate(556.3,252.0) skewY(-13.60)" class="lbl" textLength="104.7" lengthAdjust="spacingAndGlyphs">1<tspan class="sup" dy="-4">st</tspan><tspan dy="4">dimension indices</tspan></text>
<text x="124.9" y="324.9" class="st" textLength="78.8" lengthAdjust="spacingAndGlyphs">Similarity Partition</text>
<text transform="translate(14.5,488.3) skewY(21.31)" class="lbl" textLength="103.7" lengthAdjust="spacingAndGlyphs">2<tspan class="sup" dy="-3.2">nd</tspan><tspan dy="3.2">dimension indices</tspan></text>
<text transform="translate(201.3,526.6) skewY(-13.06)" class="lbl" textLength="103.7" lengthAdjust="spacingAndGlyphs">1<tspan class="sup" dy="-4">st</tspan><tspan dy="4">dimension indices</tspan></text>
<text x="482.6" y="325.8" class="st" textLength="92.2" lengthAdjust="spacingAndGlyphs">Disimilarity Partition</text>
<text transform="translate(367.9,489.1) skewY(23.27)" class="lbl" textLength="99.8" lengthAdjust="spacingAndGlyphs">2<tspan class="sup" dy="-3.2">nd</tspan><tspan dy="3.2">dimension indices</tspan></text>
<text transform="translate(559.3,533.8) skewY(-13.28)" class="lbl" textLength="103.2" lengthAdjust="spacingAndGlyphs">1<tspan class="sup" dy="-4">st</tspan><tspan dy="4">dimension indices</tspan></text>

<text x="246.8" y="11.1" class="ab" textLength="13.2" lengthAdjust="spacingAndGlyphs">(a)</text>
<text x="265" y="11.4" class="ttl" textLength="141" lengthAdjust="spacingAndGlyphs">Peakratio threshold(&#964;) = 1.3</text>
<text x="268.9" y="26.4" class="ttl" textLength="123.1" lengthAdjust="spacingAndGlyphs">Cross-PTM Score = 66.36</text>
<text x="244.6" y="296.9" class="ab" textLength="13.8" lengthAdjust="spacingAndGlyphs">(b)</text>
<text x="262.3" y="297.2" class="ttl" textLength="148.1" lengthAdjust="spacingAndGlyphs">Peakratio threshold(&#964;) = 1.65</text>
<text x="265" y="311.9" class="ttl" textLength="130" lengthAdjust="spacingAndGlyphs">Cross-PTM Score = 90.13</text>

</svg></body></html>
